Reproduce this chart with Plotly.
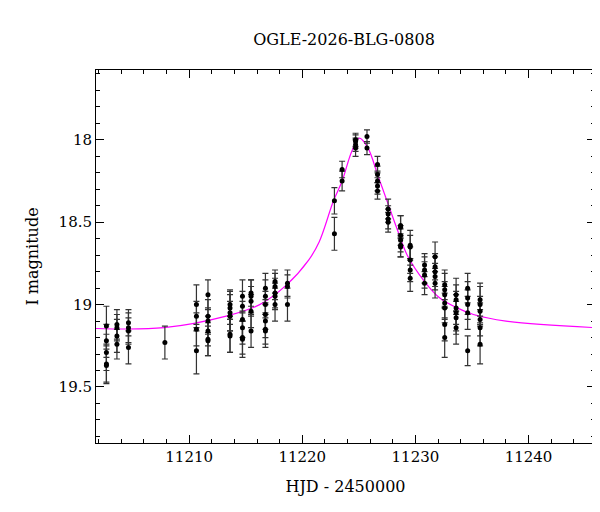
import plotly.graph_objects as go

# photometry (HJD-2450000, I mag, error)
hjd = [11202.68]*5 + [11203.61]*4 + [11204.63]*4 + [11207.85] + [11210.64]*4 + [11211.66]*6 \
    + [11213.61]*6 + [11214.71]*6 + [11215.47]*5 + [11216.74]*7 + [11217.59]*5 + [11218.69]*3 \
    + [11222.84]*2 + [11223.52]*2 + [11224.71]*4 + [11225.72]*2 + [11226.65]*5 + [11227.59]*4 \
    + [11228.69]*6 + [11229.54]*5 + [11230.81]*4 + [11231.74]*5 + [11232.59]*7 + [11233.60]*6 \
    + [11234.62]*5 + [11235.72]*6
mag = [19.13, 19.22, 19.29, 19.36, 19.37,
       19.12, 19.14, 19.19, 19.24,
       19.11, 19.14, 19.16, 19.26,
       19.23,
       19.00, 19.07, 19.15, 19.28,
       18.94, 19.07, 19.10, 19.16, 19.21, 19.22,
       19.00, 19.02, 19.05, 19.07, 19.18, 19.19,
       18.95, 19.01, 19.09, 19.14, 19.20, 19.21,
       18.93, 18.95, 18.98, 19.04, 19.16,
       18.90, 18.95, 19.00, 19.06, 19.10, 19.15, 19.16,
       18.86, 18.89, 18.93, 18.95, 19.00,
       18.87, 18.89, 19.00,
       18.37, 18.57,
       18.18, 18.25,
       18.00, 18.01, 18.03, 18.05,
       17.98, 18.05,
       18.15, 18.21, 18.25, 18.28, 18.31,
       18.42, 18.45, 18.48, 18.50,
       18.52, 18.53, 18.58, 18.61, 18.64, 18.65,
       18.64, 18.65, 18.73, 18.79, 18.84,
       18.76, 18.79, 18.82, 18.87,
       18.71, 18.77, 18.80, 18.83, 18.87,
       18.88, 18.91, 18.94, 18.99, 19.02, 19.12, 19.20,
       18.94, 18.97, 19.02, 19.05, 19.08, 19.14,
       18.90, 18.96, 19.00, 19.05, 19.28,
       18.97, 19.00, 19.04, 19.09, 19.14, 19.24]
err = [0.12, 0.10, 0.11, 0.12, 0.10,
       0.09, 0.08, 0.10, 0.09,
       0.08, 0.09, 0.08, 0.10,
       0.10,
       0.12, 0.09, 0.10, 0.14,
       0.09, 0.10, 0.08, 0.09, 0.10, 0.09,
       0.09, 0.10, 0.11, 0.09, 0.11, 0.10,
       0.10, 0.09, 0.11, 0.10, 0.10, 0.11,
       0.08, 0.10, 0.09, 0.10, 0.10,
       0.09, 0.10, 0.08, 0.09, 0.10, 0.09, 0.10,
       0.07, 0.08, 0.09, 0.08, 0.10,
       0.08, 0.07, 0.10,
       0.08, 0.10,
       0.05, 0.06,
       0.04, 0.04, 0.04, 0.05,
       0.04, 0.04,
       0.05, 0.05, 0.06, 0.05, 0.05,
       0.06, 0.05, 0.06, 0.06,
       0.06, 0.07, 0.06, 0.07, 0.07, 0.06,
       0.09, 0.07, 0.08, 0.07, 0.08,
       0.07, 0.08, 0.08, 0.07,
       0.09, 0.08, 0.09, 0.08, 0.09,
       0.09, 0.10, 0.08, 0.10, 0.09, 0.10, 0.12,
       0.10, 0.09, 0.10, 0.11, 0.10, 0.10,
       0.09, 0.10, 0.09, 0.10, 0.09,
       0.10, 0.11, 0.09, 0.10, 0.11, 0.12]

# model curve
model_t = [11201.76, 11207.78, 11213.27, 11216.23, 11218.61, 11220.56, 11221.49, 11222.76, 11223.52,
           11224.37, 11225.05, 11225.81, 11226.65, 11227.59, 11228.43, 11229.28, 11230.81, 11232.16,
           11233.69, 11235.13, 11238.01, 11245.88]
model_mag = [19.145, 19.14, 19.07, 19.00, 18.88, 18.73, 18.62, 18.37, 18.25,
             18.07, 17.99, 18.05, 18.21, 18.39, 18.55, 18.70, 18.86, 18.96,
             19.02, 19.06, 19.10, 19.14]

fig = go.Figure()
fig.add_trace(go.Scatter(x=model_t, y=model_mag, mode="lines", line=dict(color="#ff00ff", width=1.2, shape="spline"),
                         hoverinfo="skip"))
fig.add_trace(go.Scatter(x=hjd, y=mag, mode="markers",
                         marker=dict(color="black", size=5),
                         error_y=dict(type="data", array=err, color="#333333", thickness=1.2, width=3)))

axis_common = dict(showline=True, linecolor="black", linewidth=1, mirror="allticks", ticks="inside",
                   ticklen=8, tickcolor="black", showgrid=False, zeroline=False, automargin=False,
                   tickformat="d", tickfont=dict(family="DejaVu Serif", size=15, color="black"))
fig.update_xaxes(range=[11201.76, 11245.88], dtick=10,
                 title=dict(text="HJD - 2450000", font=dict(family="DejaVu Serif", size=16, color="black")),
                 minor=dict(dtick=2, ticks="inside", ticklen=4, tickcolor="black"), **axis_common)
fig.update_yaxes(range=[19.84, 17.576], dtick=0.5, tickformat="",
                 title=dict(text="I magnitude", font=dict(family="DejaVu Serif", size=16, color="black")),
                 minor=dict(dtick=0.1, ticks="inside", ticklen=4, tickcolor="black"),
                 **{k: v for k, v in axis_common.items() if k != "tickformat"})
fig.update_layout(width=600, height=512, showlegend=False, plot_bgcolor="white", paper_bgcolor="white",
                  margin=dict(l=88, r=13, t=62, b=77),
                  title=dict(text="OGLE-2026-BLG-0808", x=0.56, y=0.95, xanchor="center",
                             font=dict(family="DejaVu Serif", size=16, color="black")))
fig.write_html("out.html")
